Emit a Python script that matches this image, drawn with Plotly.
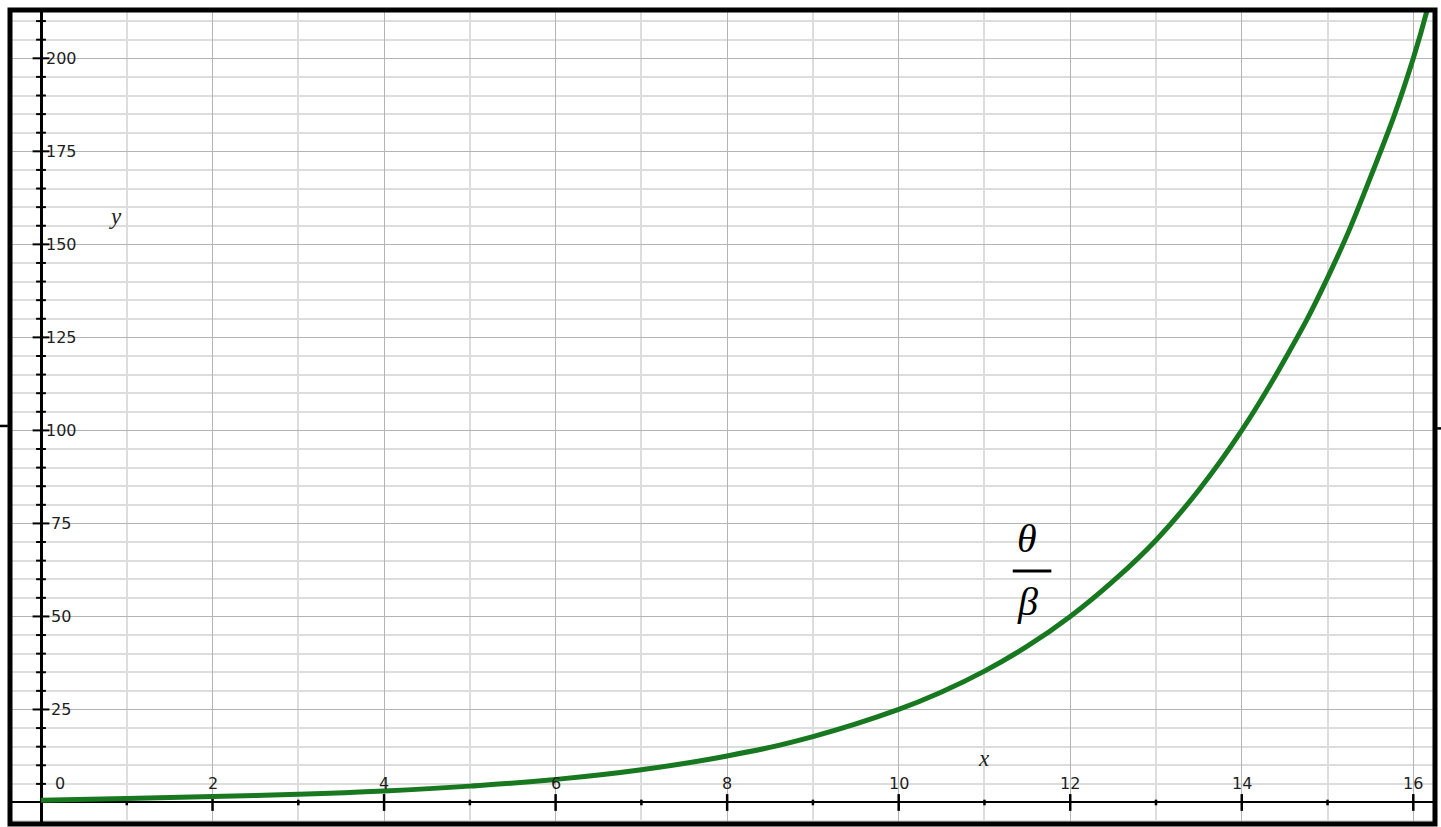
import plotly.graph_objects as go

# Curve readings (x, y)
curve_x = [0, 1, 2, 3, 4, 5, 6, 7, 8, 9, 10, 10.5, 11, 11.5, 12, 12.5, 13, 13.5,
           14, 14.5, 15, 15.5, 16, 16.3]
curve_y = [0.6, 1.1, 1.6, 2.2, 3.1, 4.4, 6.2, 8.8, 12.5, 17.7, 25, 29.7, 35.3, 42, 50, 59.5,
           70.5, 84, 100, 119, 141, 168, 200, 226]

# Axis tick values
x_major_ticks = [2, 4, 6, 8, 10, 12, 14, 16]
x_minor_ticks = [1, 3, 5, 7, 9, 11, 13, 15]
x_tick_labels = [0, 2, 4, 6, 8, 10, 12, 14, 16]
y_major_ticks = [25, 50, 75, 100, 125, 150, 175, 200]
y_minor_ticks = [v for v in range(5, 215, 5) if v % 25 != 0]
y_tick_labels = [25, 50, 75, 100, 125, 150, 175, 200]

GREEN = "#17781f"
MAJOR_GRID = "#b4b4b4"
MINOR_GRID = "#dddddd"
TICK_FONT = dict(family="DejaVu Sans", size=16, color="#1e1e1e")
SERIF_IT = "Liberation Serif"

fig = go.Figure()

# tick marks drawn on the axes through the origin
fig.add_trace(go.Scatter(
    x=[0] * len(y_minor_ticks), y=y_minor_ticks, mode="markers",
    marker=dict(symbol="line-ew", size=7, line=dict(width=2, color="black")),
    hoverinfo="skip", showlegend=False))
fig.add_trace(go.Scatter(
    x=[0] * len(y_major_ticks), y=y_major_ticks, mode="markers",
    marker=dict(symbol="line-ew", size=12, line=dict(width=2, color="black")),
    hoverinfo="skip", showlegend=False))
fig.add_trace(go.Scatter(
    x=x_major_ticks, y=[0] * len(x_major_ticks), mode="markers",
    marker=dict(symbol="line-ns", size=12, line=dict(width=2.5, color="black")),
    hoverinfo="skip", showlegend=False))
fig.add_trace(go.Scatter(
    x=x_minor_ticks, y=[0] * len(x_minor_ticks), mode="markers",
    marker=dict(symbol="line-ns", size=4, line=dict(width=2.5, color="black")),
    hoverinfo="skip", showlegend=False))

# the curve
fig.add_trace(go.Scatter(
    x=curve_x, y=curve_y, mode="lines",
    line=dict(color=GREEN, width=5, shape="spline", smoothing=1.3),
    hoverinfo="skip", showlegend=False))

annotations = []
for v in y_tick_labels:
    annotations.append(dict(x=0, y=v, xref="x", yref="y", text=str(v), showarrow=False,
                            xshift=20, xanchor="center", yanchor="middle", font=TICK_FONT))
for v in x_tick_labels:
    annotations.append(dict(x=v, y=0, xref="x", yref="y", text=str(v), showarrow=False,
                            xshift=19 if v == 0 else 0, yshift=19,
                            xanchor="center", yanchor="middle", font=TICK_FONT))

# axis names
annotations.append(dict(x=0.87, y=157.5, xref="x", yref="y", text="<i>y</i>", showarrow=False,
                        font=dict(family=SERIF_IT, size=23, color="#222")))
annotations.append(dict(x=11.0, y=11.8, xref="x", yref="y", text="<i>x</i>", showarrow=False,
                        font=dict(family=SERIF_IT, size=23, color="#222")))

# theta over beta label
annotations.append(dict(x=11.5, y=71.0, xref="x", yref="y", text="<i>θ</i>", showarrow=False,
                        font=dict(family=SERIF_IT, size=40, color="black")))
annotations.append(dict(x=11.5, y=54.0, xref="x", yref="y", text="<i>β</i>", showarrow=False,
                        font=dict(family=SERIF_IT, size=40, color="black")))

shapes = [
    dict(type="line", xref="x", yref="y", x0=11.33, x1=11.78, y0=62.2, y1=62.2,
         line=dict(color="black", width=3)),
    # outer frame
    dict(type="rect", xref="paper", yref="paper", x0=0, x1=1, y0=0, y1=1,
         line=dict(color="black", width=5), layer="above"),
    # small marks outside the frame
    dict(type="line", xref="paper", yref="paper", x0=-0.0072, x1=-0.0015, y0=0.489, y1=0.489,
         line=dict(color="black", width=2.5)),
    dict(type="line", xref="paper", yref="paper", x0=1.0015, x1=1.0045, y0=0.486, y1=0.486,
         line=dict(color="black", width=2.5)),
]

fig.update_layout(
    width=1441, height=827,
    margin=dict(l=10, r=6, t=10, b=3),
    paper_bgcolor="white", plot_bgcolor="white",
    annotations=annotations, shapes=shapes,
    xaxis=dict(range=[-0.3614, 16.253], tick0=0, dtick=2, showgrid=True,
               gridcolor=MAJOR_GRID, gridwidth=1.4, showticklabels=False, ticks="",
               zeroline=True, zerolinecolor="black", zerolinewidth=2.5, showline=False,
               minor=dict(dtick=1, tick0=0, showgrid=True, gridcolor=MINOR_GRID, gridwidth=1.5, ticks=""),
               fixedrange=True),
    yaxis=dict(range=[-5.78, 212.98], tick0=0, dtick=25, showgrid=True,
               gridcolor=MAJOR_GRID, gridwidth=1.4, showticklabels=False, ticks="",
               zeroline=True, zerolinecolor="black", zerolinewidth=1.6, showline=False,
               minor=dict(dtick=5, tick0=0, showgrid=True, gridcolor=MINOR_GRID, gridwidth=1.5, ticks=""),
               fixedrange=True),
)

fig.write_html("out.html", config={"displayModeBar": False})
